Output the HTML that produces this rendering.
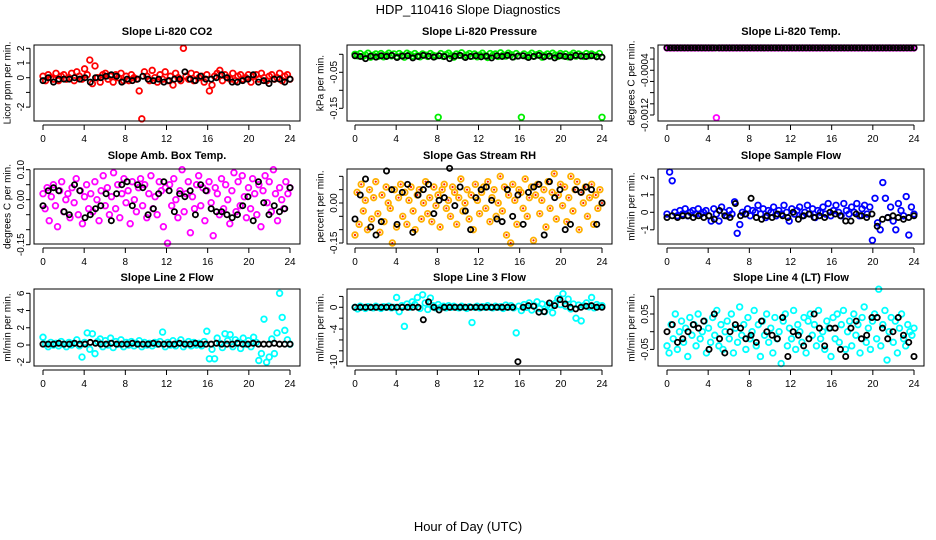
<!DOCTYPE html>
<html><head><meta charset="utf-8"><style>
body{margin:0;background:#fff;}
svg{display:block;font-family:"Liberation Sans",sans-serif;}
</style></head><body>
<svg id="chart" width="936" height="540" viewBox="0 0 936 540">
<text x="468" y="14" text-anchor="middle" font-size="13">HDP_110416  Slope Diagnostics</text>
<text x="468" y="531" text-anchor="middle" font-size="13">Hour of Day (UTC)</text>
</svg>
<script>
const xTicks=[0,4,8,12,16,20,24];
const co2Color=[0.1,-0.2,0.2,0,-0.1,0.3,-0.2,0.1,0.2,-0.1,0,0.3,-0.2,0.4,0.1,-0.1,0.6,0.2,1.2,-0.4,0.8,0,-0.3,0.2,0.3,-0.1,0.1,-0.3,0.2,0,0.3,-0.2,0.1,-0.2,0.2,0,-0.1,-0.9,-2.8,0.4,0.1,-0.2,0.5,0,-0.3,0.2,-0.1,0.4,-0.2,0.1,-0.5,0.3,0,-0.2,2.0,0.1,-0.1,0.3,-0.2,0.2,0,0.1,-0.3,0.2,-0.9,-0.5,0.1,0.3,0.5,-0.2,0.2,0,-0.1,0.3,-0.2,0.1,0.2,-0.1,0,0.2,-0.3,0.1,0.2,-0.1,0.3,0,-0.2,0.1,0.2,-0.1,0,0.3,-0.2,0.1,0.2,-0.1];
const co2Black=[-0.2,0,-0.3,-0.1,-0.1,-0.1,0,-0.1,0,-0.3,0,0,0.1,0.2,0.1,-0.3,-0.1,-0.2,-0.1,0.1,-0.1,-0.2,-0.1,-0.3,-0.2,-0.1,-0.1,0.4,-0.1,-0.2,0.1,-0.1,-0.1,0,0.2,0,-0.3,-0.3,-0.2,-0.1,0.2,-0.3,-0.2,-0.4,-0.1,-0.1,-0.3,-0.1];
const presColor=[0,-0.004,0.002,-0.006,-0.002,0.003,-0.008,-0.003,0.001,-0.005,0.002,-0.007,-0.002,0.003,-0.004,0.001,-0.006,0.002,-0.003,-0.008,0.003,-0.001,-0.005,0.002,-0.004,-0.007,0.001,-0.002,-0.006,0.002,-0.003,-0.005,-0.175,0.002,-0.006,-0.001,0.003,-0.004,-0.008,0.001,-0.003,0.004,-0.006,-0.002,0.002,-0.005,0.001,-0.007,-0.002,0.003,-0.004,-0.009,0.002,-0.003,0.001,-0.006,0.004,-0.002,-0.005,0.003,-0.001,-0.007,0.002,-0.004,-0.175,0.001,-0.006,-0.002,0.003,-0.005,-0.001,0.002,-0.008,-0.003,0.001,-0.005,0.003,-0.002,-0.006,0.002,-0.004,0.001,-0.007,-0.002,0.003,-0.005,0.001,-0.003,-0.006,0.002,-0.004,0.001,-0.003,-0.005,0.002,-0.175];
const presBlack=[-0.004,-0.006,-0.012,-0.005,-0.008,-0.004,-0.006,-0.003,-0.009,-0.005,-0.004,-0.01,-0.006,-0.003,-0.005,-0.008,-0.004,-0.006,-0.012,-0.005,-0.003,-0.009,-0.006,-0.004,-0.007,-0.005,-0.01,-0.004,-0.006,-0.003,-0.008,-0.005,-0.004,-0.009,-0.006,-0.003,-0.007,-0.005,-0.01,-0.004,-0.006,-0.008,-0.003,-0.005,-0.006,-0.004,-0.007,-0.008];
const tempColor=[0,0,0,0,0,0,0,0,0,0,0,0,0,0,0,0,0,0,0,-0.00125,0,0,0,0,0,0,0,0,0,0,0,0,0,0,0,0,0,0,0,0,0,0,0,0,0,0,0,0,0,0,0,0,0,0,0,0,0,0,0,0,0,0,0,0,0,0,0,0,0,0,0,0,0,0,0,0,0,0,0,0,0,0,0,0,0,0,0,0,0,0,0,0,0,0,0,0];
const tempBlack=[0,0,0,0,0,0,0,0,0,0,0,0,0,0,0,0,0,0,0,0,0,0,0,0,0,0,0,0,0,0,0,0,0,0,0,0,0,0,0,0,0,0,0,0,0,0,0,0,0,0,0,0,0,0,0,0,0,0,0,0,0,0,0,0,0,0,0,0,0,0,0,0];
const ambColor=[0.02,-0.03,0.04,-0.07,0.01,0.05,-0.02,-0.09,0.03,0.06,-0.04,0.0,0.02,-0.06,0.04,-0.01,0.07,-0.05,0.03,-0.08,0.01,0.05,-0.03,0.02,-0.04,0.06,0.0,-0.07,0.03,0.08,-0.02,0.04,-0.05,0.01,0.09,-0.03,0.05,-0.06,0.02,0.07,-0.01,0.03,-0.08,0.06,0.0,-0.04,0.04,0.07,-0.02,0.05,-0.06,0.02,0.08,-0.03,0.01,-0.05,0.06,0.03,-0.09,0.04,-0.145,0.05,-0.02,0.07,0.0,-0.06,0.03,0.1,-0.04,0.02,0.06,-0.11,0.01,-0.03,0.05,0.08,-0.02,0.04,-0.07,0.03,0.06,-0.01,-0.12,0.04,0.02,-0.05,0.07,-0.03,0.05,0.0,-0.08,0.03,0.09,-0.04,0.06,-0.02,0.08,0.01,-0.06,0.04,-0.03,0.07,0.02,-0.05,0.05,-0.09,0.03,0.08,-0.01,0.06,-0.04,0.1,0.02,-0.07,0.04,0.0,-0.03,0.06,0.02,0.04];
const ambBlack=[-0.02,0.03,0.04,0.03,-0.04,-0.05,0.05,0.03,-0.06,-0.05,-0.03,-0.02,0.02,-0.07,0.02,0.05,0.06,-0.02,0.05,0.04,-0.05,-0.03,0.02,0.06,0.03,-0.04,0.02,0.01,0.03,-0.05,0.05,0.03,-0.03,-0.04,-0.04,-0.05,-0.06,-0.05,-0.02,0.01,-0.07,0.06,-0.01,-0.05,-0.02,-0.04,-0.03,0.04];
const rhColor=[-0.12,0.04,-0.08,0.07,-0.03,0.01,-0.1,0.05,-0.06,0.02,0.08,-0.04,-0.11,0.03,-0.07,0.06,0.0,-0.02,-0.15,0.05,-0.09,0.02,0.07,-0.05,0.04,-0.08,0.01,0.06,-0.03,-0.1,0.03,0.05,-0.06,0.0,0.08,-0.04,0.02,-0.07,0.06,-0.01,0.03,-0.09,0.05,0.07,-0.02,0.01,-0.05,0.06,0.04,-0.08,0.02,0.09,-0.03,0.0,0.05,-0.06,0.03,-0.1,0.07,0.01,-0.04,0.04,0.06,-0.02,0.08,-0.07,0.02,0.05,-0.05,0.0,0.1,-0.03,0.06,-0.12,0.03,-0.15,0.07,0.01,-0.08,0.05,0.04,-0.02,0.09,-0.05,0.02,0.06,-0.14,0.03,0.07,-0.04,0.01,0.05,-0.09,0.08,-0.02,0.04,0.11,-0.06,0.03,0.07,-0.01,0.06,-0.07,0.02,0.1,-0.03,0.05,0.08,-0.1,0.04,0.0,0.06,-0.05,0.02,0.07,-0.08,0.03,-0.02,0.05,0.0];
const rhBlack=[-0.06,0.03,0.09,-0.09,-0.12,-0.07,0.12,0.05,-0.08,0.04,0.07,-0.11,0.03,0.05,0.07,-0.04,0.01,0.02,0.13,-0.01,0.06,-0.03,-0.1,0.02,0.05,0.06,0.01,-0.06,-0.07,0.05,-0.05,0.03,-0.08,0.04,0.06,0.07,-0.12,0.08,0.02,0.05,-0.1,-0.08,0.05,0.04,0.06,0.05,-0.08,0.0];
const flowColor=[-0.1,2.3,1.8,0.0,-0.2,0.1,-0.1,0.2,-0.2,0.0,0.1,-0.1,0.2,-0.1,0.0,0.1,-0.2,-0.5,0.2,-0.1,-0.5,0.3,0.0,-0.2,0.1,-0.1,0.6,-1.2,-0.7,0.0,-0.1,0.2,-0.2,0.1,0.0,0.4,-0.1,0.2,-0.3,0.1,0.0,0.3,-0.2,0.1,-0.1,0.4,0.0,-0.5,0.2,-0.1,0.1,0.3,-0.2,0.0,0.4,-0.1,0.2,-0.3,0.1,0.0,0.3,-0.1,0.5,-0.2,0.1,0.4,0.0,-0.2,0.5,0.1,-0.1,0.3,0.0,0.5,-0.2,0.2,0.4,-0.1,0.3,-1.6,0.8,-0.6,-1.0,1.7,0.8,-0.3,0.3,-0.5,-1.0,0.5,0.1,-0.2,0.9,-1.3,0.3,-0.1];
const flowBlack=[-0.3,-0.2,-0.3,-0.2,-0.2,-0.3,-0.2,-0.3,-0.2,-0.4,0.1,-0.2,-0.3,0.5,-0.2,-0.1,0.8,-0.3,-0.4,-0.2,-0.3,-0.1,-0.2,-0.3,0.0,-0.4,-0.2,-0.1,-0.3,-0.2,-0.3,0.0,-0.1,-0.2,-0.5,-0.5,-0.1,-0.2,-0.3,-0.1,-0.8,-0.4,-0.3,-0.2,-0.3,-0.4,-0.3,-0.2];
const line2Color=[0.9,0.1,-0.2,0.3,0.0,0.2,-0.1,0.4,0.1,-0.2,0.3,0.0,0.2,0.6,-0.1,-1.4,0.3,1.4,-0.5,1.3,-1.0,0.4,0.7,-0.2,0.5,0.0,0.8,-0.3,0.4,0.1,0.6,-0.2,0.3,0.0,0.4,-0.1,0.2,0.5,-0.2,0.3,0.0,0.2,-0.1,0.3,0.1,0.4,1.5,-0.2,0.3,0.0,0.5,-0.1,0.2,0.6,-0.2,0.1,0.4,-0.1,0.3,0.0,0.2,-0.1,0.4,1.6,-1.6,-0.5,-1.6,0.8,0.2,-0.3,1.3,0.5,1.2,-0.2,0.6,0.3,-0.4,0.8,0.1,0.5,-0.2,0.9,0.3,-1.8,-1.0,3.0,-2.0,-1.4,0.7,-1.0,1.4,6.0,3.2,1.7,0.6,0.1];
const line2Black=[0.1,0.1,0.1,0.2,0.1,0.1,0.2,0.1,0.1,0.3,0.2,0.1,0.1,0.2,0.1,0.1,0.1,0.2,0.1,0.1,0.1,0.2,0.1,0.1,0.1,0.1,0.2,0.1,0.1,0.2,0.1,0.1,0.1,0.2,0.1,0.1,0.1,0.2,0.1,0.1,0.2,0.1,0.1,0.1,0.2,0.1,0.1,0.1];
const line3Color=[0.0,-0.3,0.2,0.0,-0.2,0.1,0.0,-0.1,0.2,0.0,-0.2,0.1,0.0,0.2,-0.1,0.0,1.8,-0.8,0.3,-3.5,0.6,0.0,1.0,0.5,1.8,-0.2,2.3,0.8,-0.4,1.7,0.3,-0.1,0.5,0.0,0.2,-0.1,0.3,0.0,0.2,0.0,-0.1,0.2,0.0,-0.2,0.1,-2.8,0.0,0.2,-0.1,0.1,0.0,0.3,0.0,-0.1,0.2,0.0,0.1,-0.2,0.4,0.0,0.3,-0.1,-4.7,0.2,-0.6,0.5,0.0,0.8,-0.5,0.3,1.0,-0.2,0.6,-0.8,0.4,0.1,-1.0,0.7,1.6,0.5,2.5,0.2,1.5,-0.3,0.6,-2.0,0.4,-2.5,0.3,0.8,0.1,1.8,-0.1,0.5,0.2,0.3];
const line3Black=[0,0,0,0,0,0,0,0,0,0,0,0,0,-2.3,1.0,0,-0.5,0,0,0,0,0,0,0,0,0,0,0,0,0,0,-10,0,0.3,0.2,-0.9,-0.8,0.8,0.3,1.4,0.6,0,-0.3,0,0.2,0.3,0,0];
const line4Color=[-0.04,-0.06,0.02,-0.02,0.05,-0.05,0.0,0.03,-0.03,0.01,-0.07,0.04,-0.01,0.02,-0.04,0.05,-0.02,0.0,0.03,-0.06,0.01,-0.03,0.04,-0.01,0.06,-0.04,0.02,-0.05,0.0,0.03,-0.02,0.05,-0.06,0.01,-0.03,0.07,-0.01,0.02,-0.05,0.04,-0.02,0.0,0.06,-0.04,0.02,-0.07,0.03,-0.01,0.05,-0.03,0.01,-0.06,0.04,-0.02,0.0,-0.09,0.03,0.05,-0.04,0.01,-0.02,0.06,-0.05,0.02,0.0,-0.03,0.04,-0.06,0.03,0.05,-0.01,0.02,-0.04,0.06,-0.02,0.0,-0.05,0.03,0.01,-0.07,0.04,-0.02,0.05,-0.03,0.02,0.06,-0.05,0.0,0.03,-0.04,0.05,-0.01,0.02,-0.06,0.04,0.07,-0.03,0.01,-0.05,0.03,0.05,-0.02,0.12,-0.04,0.02,0.06,-0.08,0.0,0.04,-0.03,0.03,-0.06,0.01,0.05,-0.02,-0.04,0.02,0.0,-0.01,0.01];
const line4Black=[0.0,0.02,-0.03,-0.02,0.0,0.02,0.01,0.03,-0.05,0.05,-0.02,-0.06,0.0,0.02,0.01,-0.02,-0.01,-0.03,0.03,0.0,-0.01,-0.02,0.04,-0.07,0.0,-0.01,-0.04,-0.02,0.05,0.01,-0.04,0.01,0.01,-0.05,-0.07,0.01,0.03,-0.02,-0.01,0.04,0.04,0.01,-0.02,0.0,0.04,-0.01,-0.03,-0.07];
const co2Ticks=[2,1,0,-1,-2]; const co2Labels=["2","1","0","","-2"];
const presTicks=[0,-0.05,-0.1,-0.15]; const presLabels=["","-0.05","","-0.15"];
const tempTicks=[0,-0.0002,-0.0004,-0.0006,-0.0008,-0.001,-0.0012]; const tempLabels=["","","-0.0004","","","","-0.0012"];
const ambTicks=[0.1,0.05,0,-0.05,-0.1,-0.15]; const ambLabels=["0.10","","0.00","","","-0.15"];
const rhTicks=[0.1,0.05,0,-0.05,-0.1,-0.15]; const rhLabels=["","","0.00","","","-0.15"];
const flowTicks=[2,1,0,-1]; const flowLabels=["2","1","0","-1"];
const line2Ticks=[6,4,2,0,-2]; const line2Labels=["6","4","2","0","-2"];
const line3Ticks=[2,0,-2,-4,-6,-8,-10]; const line3Labels=["","0","","-4","","","-10"];
const line4Ticks=[0.1,0.05,0,-0.05]; const line4Labels=["","0.05","","-0.05"];

const NS="http://www.w3.org/2000/svg";
const svg=document.getElementById('chart');
function mk(tag,attrs,parent){const e=document.createElementNS(NS,tag);for(const k in attrs)e.setAttribute(k,attrs[k]);(parent||svg).appendChild(e);return e;}
const cols=[{l:34,r:300,x0:43,x24:290,yt:8},{l:347,r:612,x0:355,x24:602,yt:321},{l:658,r:924,x0:667,x24:914,yt:632}];
const rows=[{t:45,b:121,title:35},{t:169,b:244,title:159},{t:289,b:366,title:281}];
const panels=[
 {name:"co2",title:"Slope Li-820 CO2",yl:"Licor ppm per min.",c:0,r:0,v0:0,p0:77.7,v1:2,p1:48.3,col:co2Color,blk:co2Black,ticks:co2Ticks,labels:co2Labels,color:"#ff0000"},
 {name:"pressure",title:"Slope Li-820 Pressure",yl:"kPa per min.",c:1,r:0,v0:0,p0:54.3,v1:-0.15,p1:108.3,col:presColor,blk:presBlack,ticks:presTicks,labels:presLabels,color:"#00ee00"},
 {name:"temp",title:"Slope Li-820 Temp.",yl:"degrees C per min.",c:2,r:0,v0:0,p0:47.9,v1:-0.0012,p1:115,col:tempColor,blk:tempBlack,ticks:tempTicks,labels:tempLabels,color:"#ff00ff"},
 {name:"amb-box-temp",title:"Slope Amb. Box Temp.",yl:"degrees C per min.",c:0,r:1,v0:0,p0:199.7,v1:0.1,p1:169.7,col:ambColor,blk:ambBlack,ticks:ambTicks,labels:ambLabels,color:"#ff00ff"},
 {name:"gas-stream-rh",title:"Slope Gas Stream RH",yl:"percent per min.",c:1,r:1,v0:0,p0:203,v1:-0.15,p1:243,col:rhColor,blk:rhBlack,ticks:rhTicks,labels:rhLabels,color:"#ffb000",dot:"#ff2200"},
 {name:"sample-flow",title:"Slope Sample Flow",yl:"ml/min per min.",c:2,r:1,v0:0,p0:212.3,v1:2,p1:177.3,col:flowColor,blk:flowBlack,ticks:flowTicks,labels:flowLabels,color:"#0000ff"},
 {name:"line2-flow",title:"Slope Line 2 Flow",yl:"ml/min per min.",c:0,r:2,v0:0,p0:345,v1:6,p1:293.3,col:line2Color,blk:line2Black,ticks:line2Ticks,labels:line2Labels,color:"#00ffff"},
 {name:"line3-flow",title:"Slope Line 3 Flow",yl:"ml/min per min.",c:1,r:2,v0:0,p0:307.3,v1:-10,p1:361.7,col:line3Color,blk:line3Black,ticks:line3Ticks,labels:line3Labels,color:"#00ffff"},
 {name:"line4-flow",title:"Slope Line 4 (LT) Flow",yl:"ml/min per min.",c:2,r:2,v0:0,p0:331.7,v1:0.05,p1:314,col:line4Color,blk:line4Black,ticks:line4Ticks,labels:line4Labels,color:"#00ffff"}
];
panels.forEach(p=>{
 const C=cols[p.c],R=rows[p.r];
 const g=mk('g',{});
 
 
 const xs=h=>C.x0+(C.x24-C.x0)*h/24;
 const ys=v=>p.p0+(v-p.v0)*(p.p1-p.p0)/(p.v1-p.v0);
 const t=mk('text',{x:(C.l+C.r)/2,y:R.title,'text-anchor':'middle','font-size':11,'font-weight':'bold'},g);
 t.textContent=p.title;
 
 
 const yc=(R.t+R.b)/2;
 const yl=mk('text',{x:C.yt,y:yc,transform:`rotate(-90 ${C.yt} ${yc})`,'text-anchor':'middle','font-size':10,'dominant-baseline':'central'},g);
 yl.textContent=p.yl;
 
 
 const pts=mk('g',{},g);
 
 
 p.col.forEach((v,i)=>{
  const cx=xs(i*24/(p.col.length-1)),cy=ys(v);
  const c=mk('circle',{cx:cx,cy:cy,r:2.8,fill:'none',stroke:p.color,'stroke-width':1.8},pts);
  
  
  if(p.dot){const d=mk('circle',{cx:cx,cy:cy,r:1.1,fill:p.dot},pts);
   
   }
 });
 p.blk.forEach((v,i)=>{
  const c=mk('circle',{cx:xs(i*24/(p.blk.length-1)),cy:ys(v),r:2.6,fill:'none',stroke:'#000','stroke-width':1.8},pts);
  
  
 });
 const box=mk('rect',{x:C.l,y:R.t,width:C.r-C.l,height:R.b-R.t,fill:'none',stroke:'#000','stroke-width':1},g);
 
 
 const ax=mk('g',{},g);
 
 
 mk('line',{x1:xs(0),x2:xs(24),y1:R.b+4,y2:R.b+4,stroke:'#000'},ax);
 xTicks.forEach(h=>{
  mk('line',{x1:xs(h),x2:xs(h),y1:R.b+4,y2:R.b+9,stroke:'#000'},ax);
  const tl=mk('text',{x:xs(h),y:R.b+21,'text-anchor':'middle','font-size':10},ax);
  tl.textContent=String(h);
  
  
 });
 const ay=mk('g',{},g);
 
 
 const yv=p.ticks.map(ys);
 mk('line',{x1:C.l-4,x2:C.l-4,y1:Math.min(...yv),y2:Math.max(...yv),stroke:'#000'},ay);
 p.ticks.forEach((v,i)=>{
  const py=ys(v);
  mk('line',{x1:C.l-8,x2:C.l-4,y1:py,y2:py,stroke:'#000'},ay);
  if(p.labels[i]){
   const lx=C.l-10;
   const tl=mk('text',{x:lx,y:py,transform:`rotate(-90 ${lx} ${py})`,'text-anchor':'middle','font-size':10},ay);
   tl.textContent=p.labels[i];
   
   
  }
 });
});
</script>
</body></html>
